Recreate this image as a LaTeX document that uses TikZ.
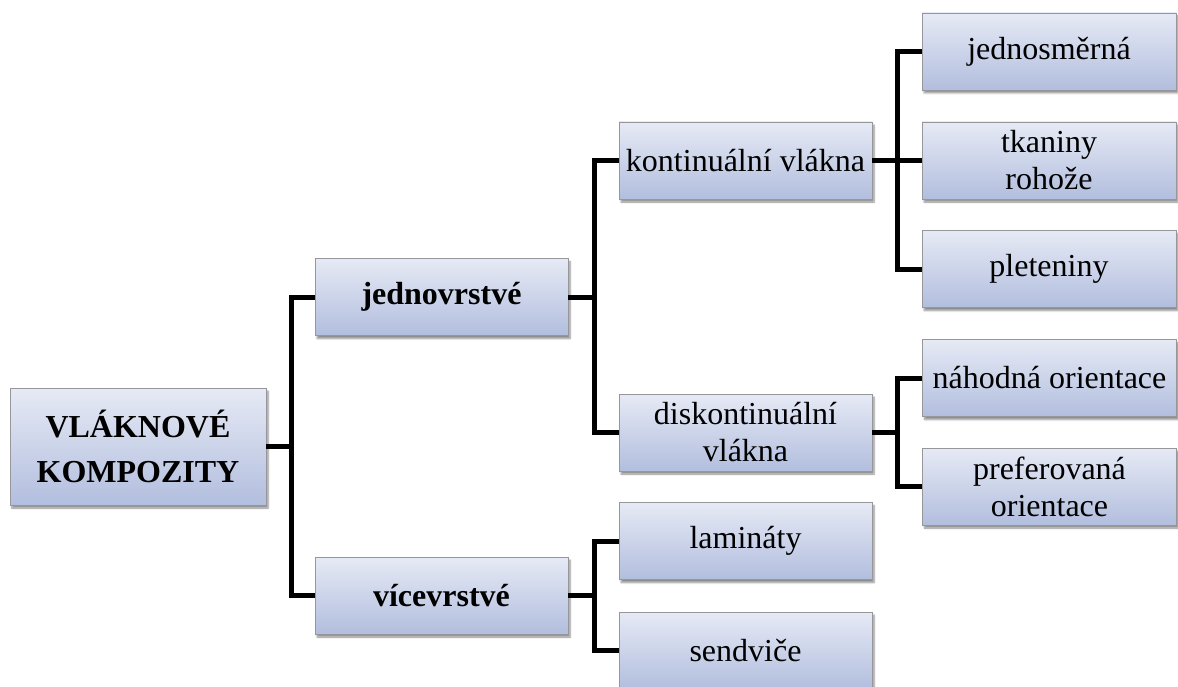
\documentclass[tikz,border=0pt]{standalone}
\usepackage{fontspec}
\setmainfont{Liberation Serif}
\usetikzlibrary{shadows.blur}
\definecolor{boxtop}{RGB}{230,234,245}
\definecolor{boxbot}{RGB}{178,190,222}
\definecolor{boxline}{RGB}{150,150,155}
\tikzset{
  box/.style={draw=boxline, line width=0.8pt, top color=boxtop, bottom color=boxbot,
    minimum width=253pt, minimum height=77pt, inner sep=0pt, align=center,
    font=\fontsize{32}{37}\selectfont,
    blur shadow={shadow xshift=2pt, shadow yshift=-3pt, shadow blur steps=6, shadow opacity=45, shadow blur extra rounding=0pt}},
  bbox/.style={box, font=\fontsize{32}{45}\selectfont\bfseries},
  conn/.style={draw=black, line width=5pt}
}
\begin{document}
\begin{tikzpicture}[x=1pt,y=-1pt]
\useasboundingbox (0,0) rectangle (1178,687);
\clip (0,0) rectangle (1178,687);
% nodes
\node[bbox, minimum width=256pt, minimum height=117pt] (root) at (138,446.5) {VLÁKNOVÉ\\KOMPOZITY};
\node[bbox] (jed) at (441.5,297) {jednovrstvé};
\node[bbox] (vic) at (441.5,595.5) {vícevrstvé};
\node[box] (kont) at (745.5,160.5) {kontinuální vlákna};
\node[box] (disk) at (745.5,432.5) {diskontinuální\\vlákna};
\node[box] (lam) at (745.5,541) {lamináty};
\node[box] (sen) at (745.5,650.5) {sendviče};
\node[box, minimum width=254pt] (jsm) at (1049,51.5) {jednosměrná};
\node[box, minimum width=254pt] (tka) at (1049,160.5) {tkaniny\\rohože};
\node[box, minimum width=254pt] (ple) at (1049,269) {pleteniny};
\node[box, minimum width=254pt] (nah) at (1049.5,378) {náhodná orientace};
\node[box, minimum width=254pt] (pre) at (1049.5,486.5) {preferovaná\\orientace};
% trunk coordinates
\coordinate (t1) at (291,0);
\coordinate (t2) at (594,0);
\coordinate (t3) at (897,0);
% connectors
\begin{scope}[on background layer/.style={}]
\draw[conn] (root.east) -- (root.east -| t1);
\draw[conn] (jed.west) -- (jed.west -| t1) -- (vic.west -| t1) -- (vic.west);
\draw[conn] (jed.east) -- (jed.east -| t2);
\draw[conn] (kont.west) -- (kont.west -| t2) -- (disk.west -| t2) -- (disk.west);
\draw[conn] (vic.east) -- (vic.east -| t2);
\draw[conn] (lam.west) -- (lam.west -| t2) -- (sen.west -| t2) -- (sen.west);
\draw[conn] (kont.east) -- (tka.west);
\draw[conn] (jsm.west) -- (jsm.west -| t3) -- (ple.west -| t3) -- (ple.west);
\draw[conn] (disk.east) -- (disk.east -| t3);
\draw[conn] (nah.west) -- (nah.west -| t3) -- (pre.west -| t3) -- (pre.west);
\end{scope}
\end{tikzpicture}
\end{document}
